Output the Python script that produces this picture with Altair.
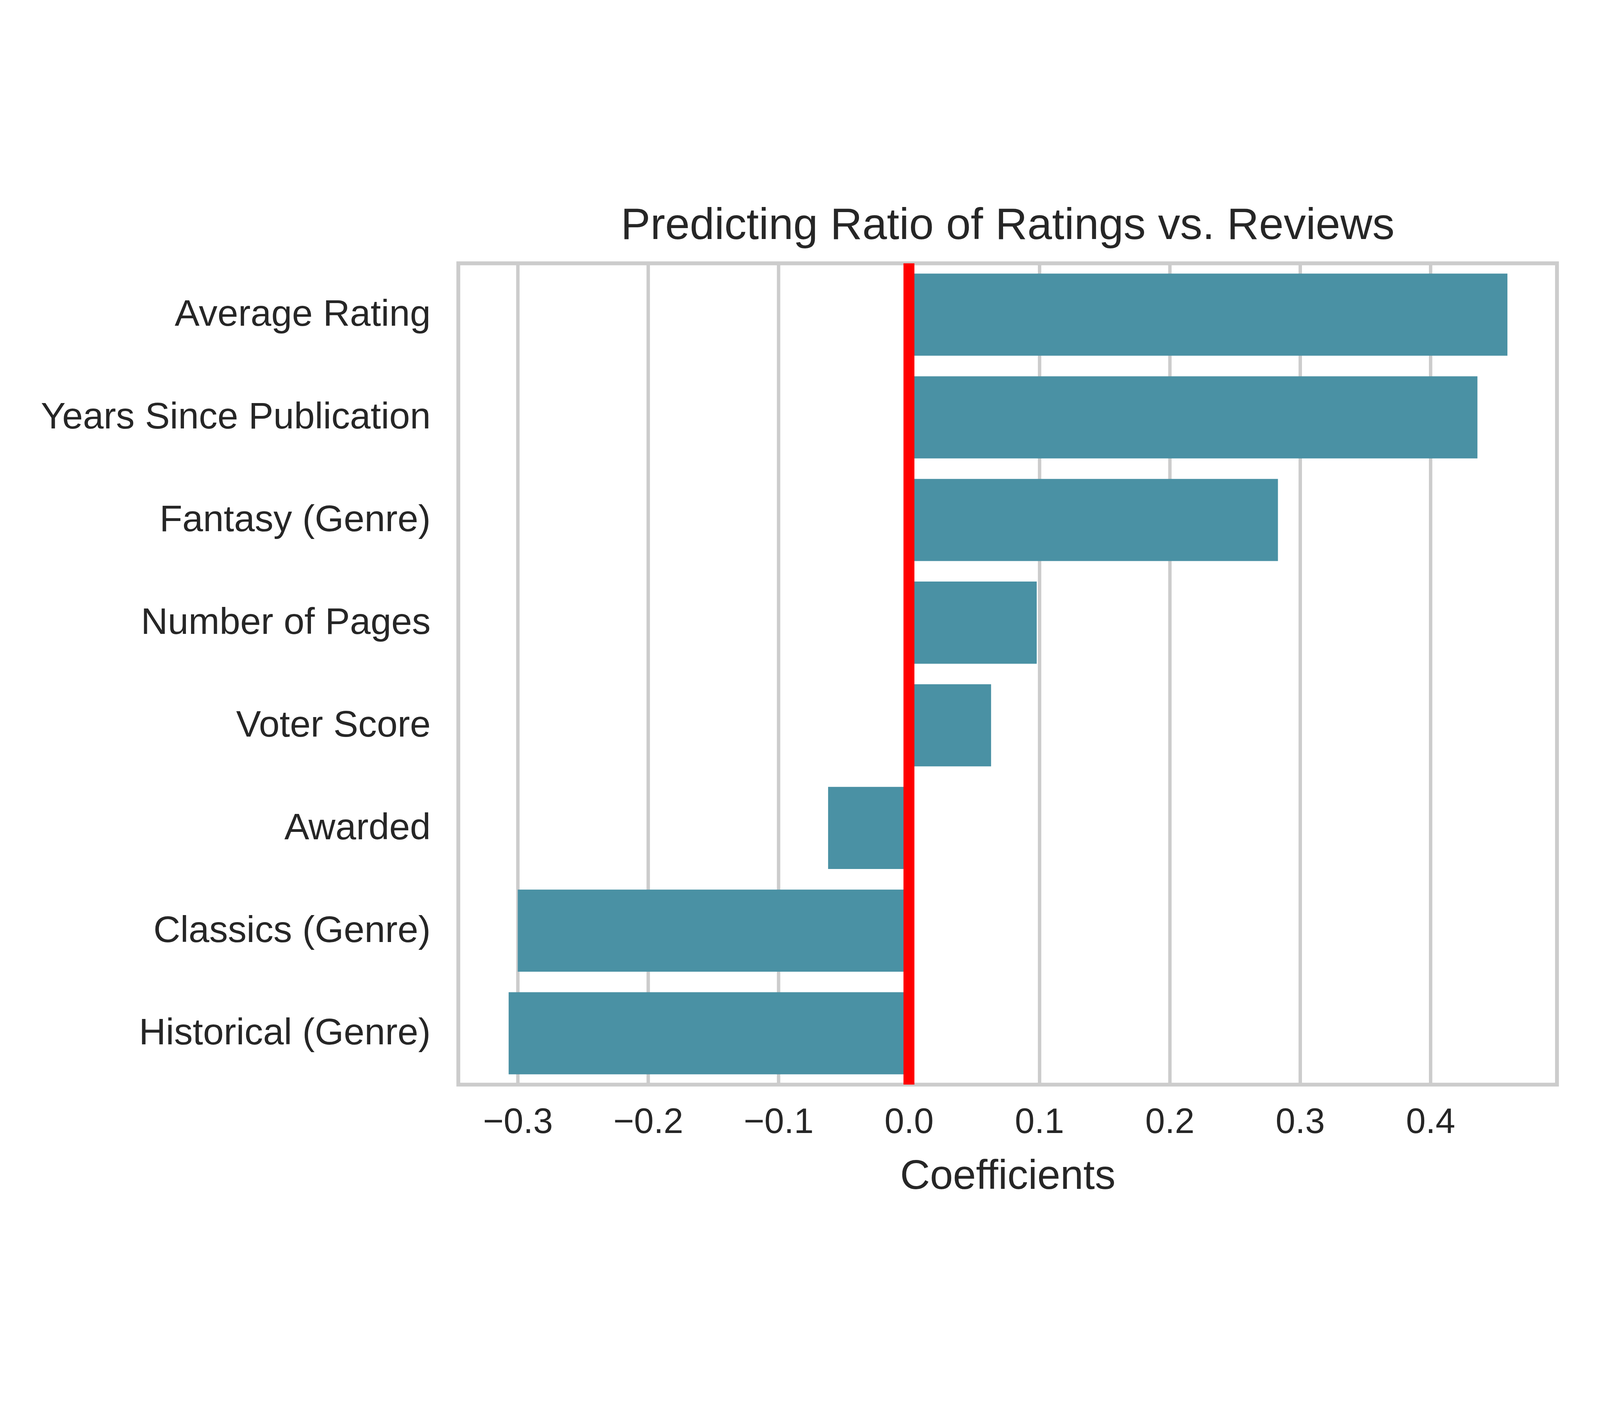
import pandas as pd
import altair as alt

# Coefficients (top to bottom)
features = [
    "Average Rating",
    "Years Since Publication",
    "Fantasy (Genre)",
    "Number of Pages",
    "Voter Score",
    "Awarded",
    "Classics (Genre)",
    "Historical (Genre)",
]
coefs = [0.459, 0.436, 0.283, 0.098, 0.063, -0.062, -0.300, -0.307]
x_ticks = [-0.3, -0.2, -0.1, 0.0, 0.1, 0.2, 0.3, 0.4]

df = pd.DataFrame({"feature": features, "coef": coefs})

FONT = "Liberation Sans"
TEXT = "#262626"
GRID = "#cccccc"

x_scale = alt.Scale(domain=[-0.3456, 0.497], nice=False, zero=False)

bars = alt.Chart(df).mark_bar(color="#4a91a4").encode(
    x=alt.X(
        "coef:Q",
        scale=x_scale,
        title="Coefficients",
        axis=alt.Axis(
            values=x_ticks,
            format=".1f",
            grid=True,
            gridColor=GRID,
            gridWidth=11.5,
            domain=False,
            ticks=False,
            tickSize=0,
            labelPadding=68,
            labelFontSize=120,
            labelFont=FONT,
            labelColor=TEXT,
            labelLimit=2000,
            titleFontSize=140,
            titleFont=FONT,
            titleColor=TEXT,
            titleFontWeight="normal",
            titleBaseline="alphabetic",
            titleY=352,
        ),
    ),
    y=alt.Y(
        "feature:N",
        sort=features,
        scale=alt.Scale(paddingInner=0.2, paddingOuter=0.1),
        title=None,
        axis=alt.Axis(
            grid=False,
            domain=False,
            ticks=False,
            tickSize=0,
            labelPadding=94,
            labelFontSize=126,
            labelFont=FONT,
            labelColor=TEXT,
            labelLimit=3000,
        ),
    ),
)

zero_line = alt.Chart(pd.DataFrame({"x": [0.0]})).mark_rule(
    color="#ff0000", strokeWidth=37
).encode(x=alt.X("x:Q", scale=x_scale))

chart = (bars + zero_line).properties(
    width=3717,
    height=2779,
    background="white",
    padding={"left": 1540, "top": 303, "right": 135, "bottom": 510},
    autosize=alt.AutoSizeParams(type="none"),
    title=alt.TitleParams(
        text="Predicting Ratio of Ratings vs. Reviews",
        fontSize=150,
        font=FONT,
        color=TEXT,
        fontWeight="normal",
        anchor="middle",
        offset=33,
    ),
).configure_view(stroke=GRID, strokeWidth=13, strokeOpacity=1)

chart.save("out.html", embed_options={"renderer": "svg", "actions": False})
